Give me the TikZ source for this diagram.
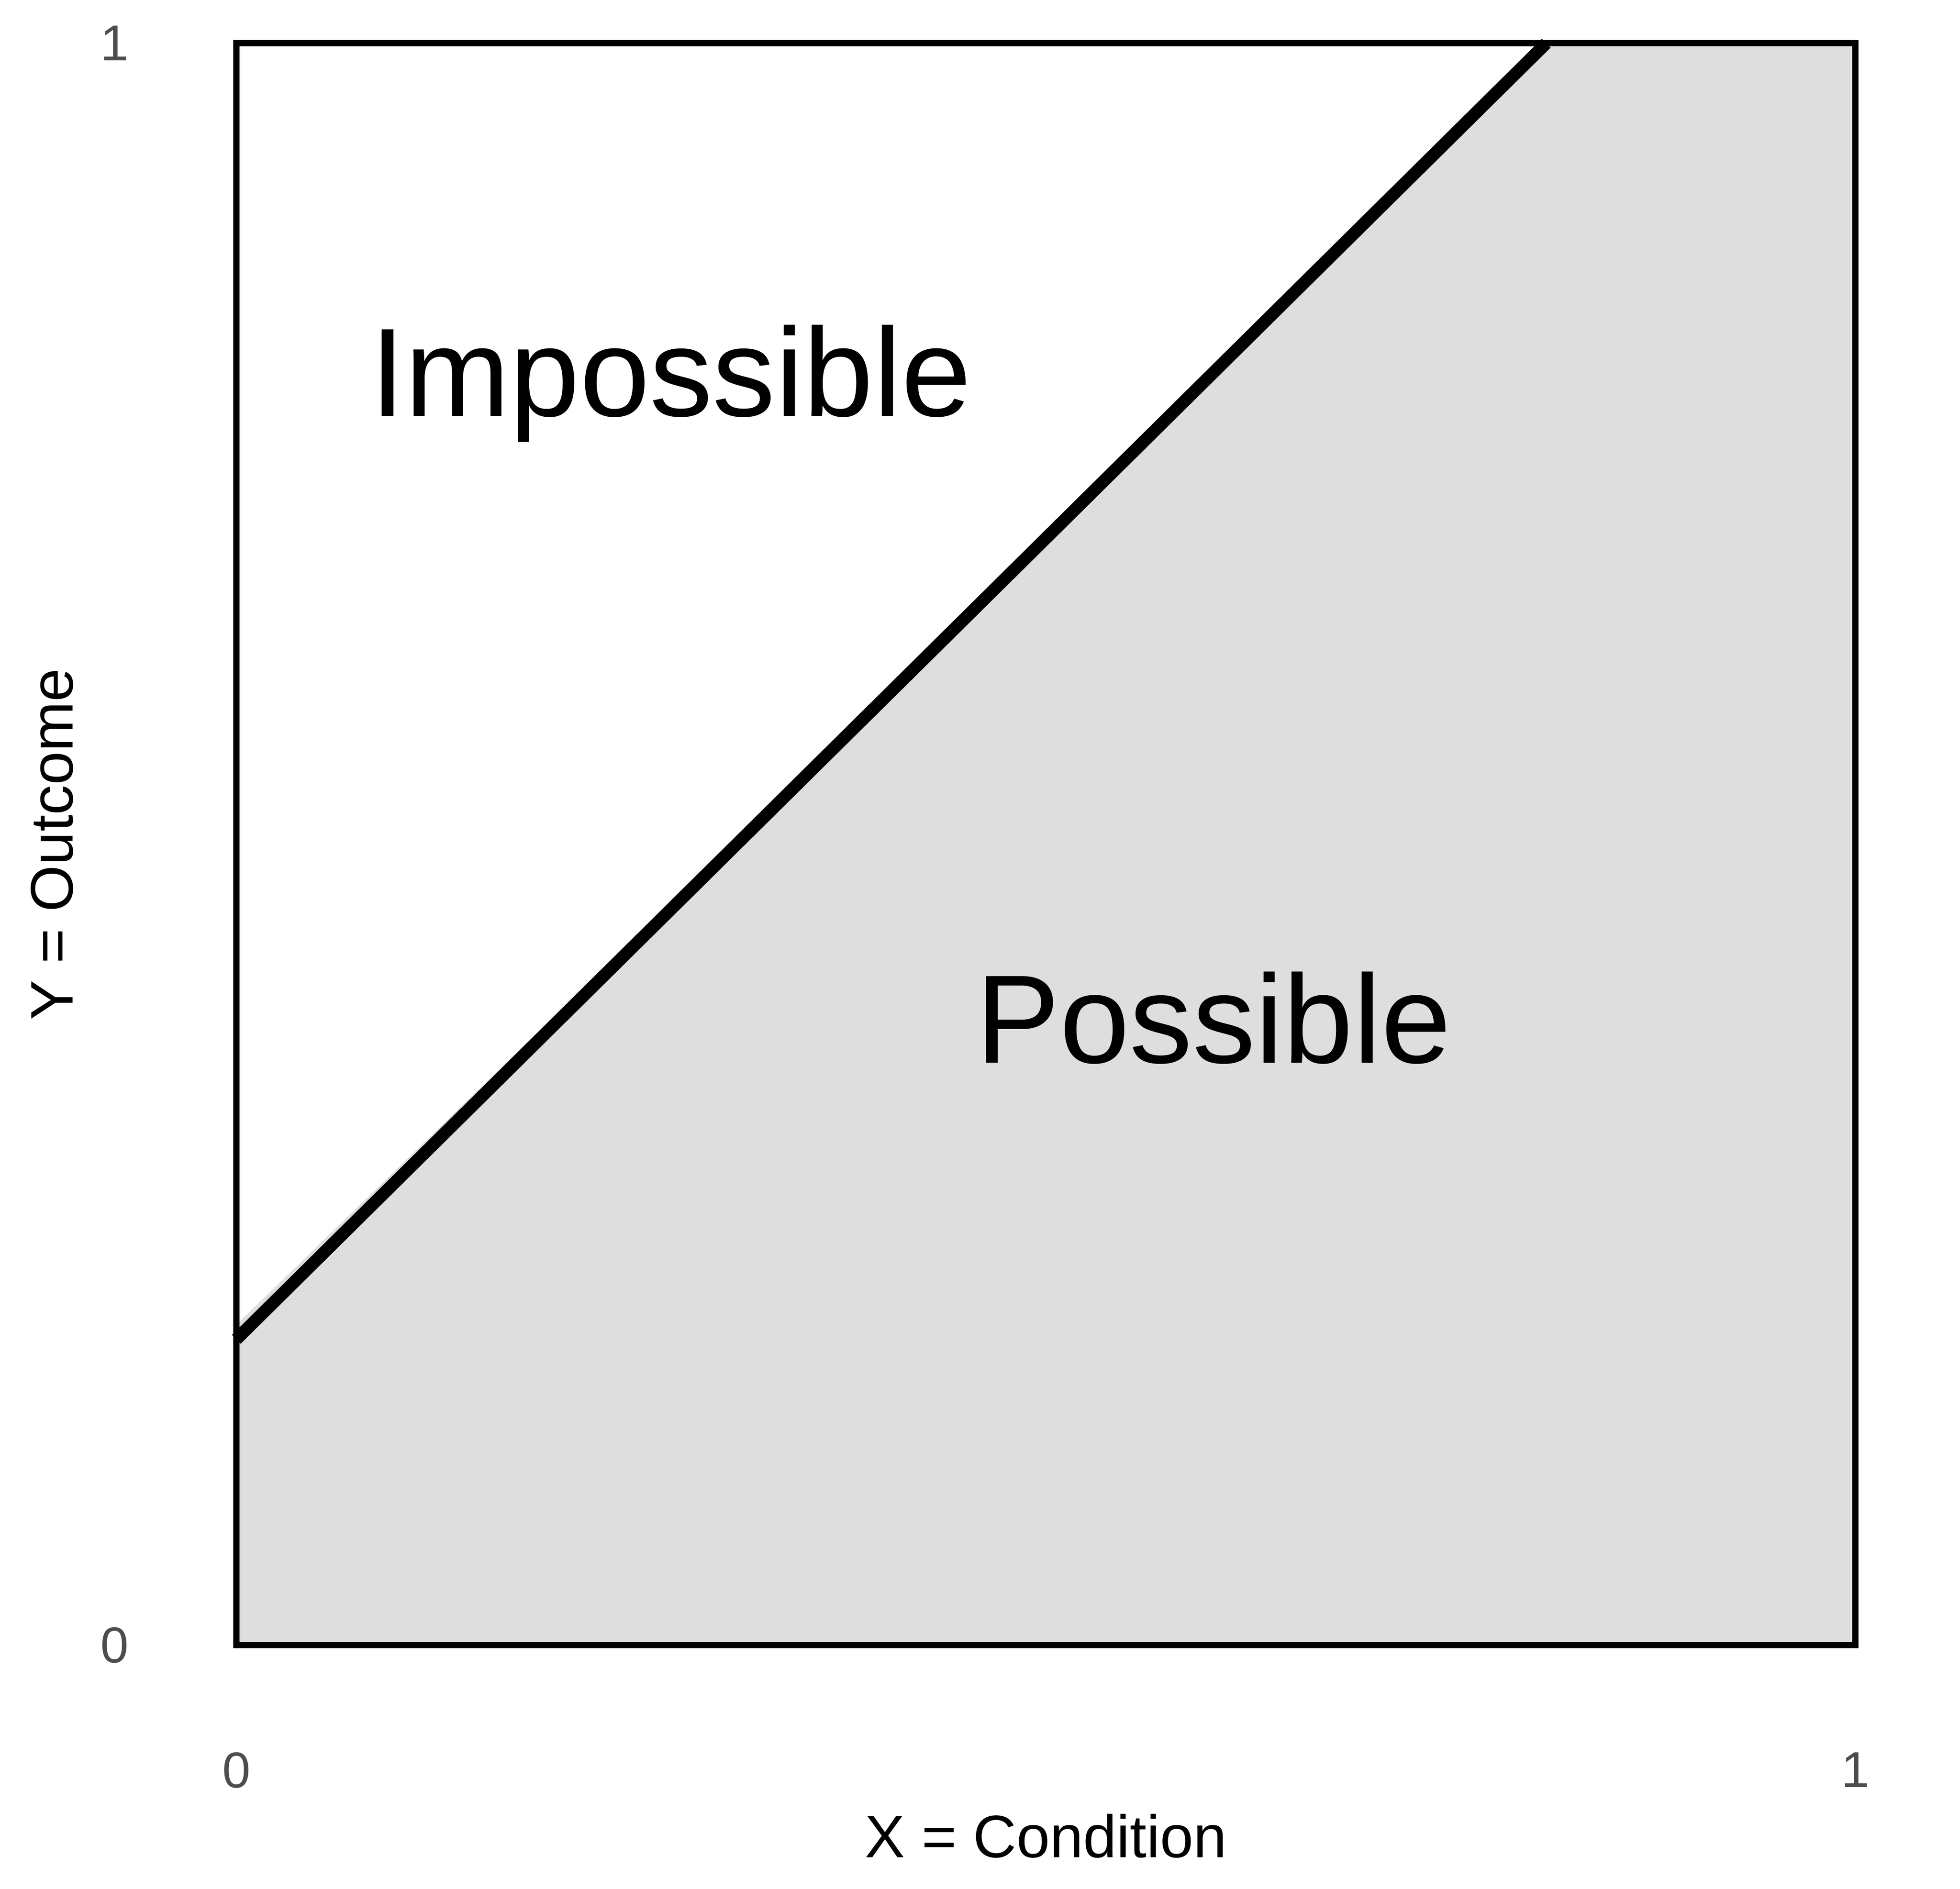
\documentclass[tikz,border=0pt]{standalone}
\usepackage{fontspec}
\setmainfont{Liberation Sans}
\usepackage{tikz}
\definecolor{possiblegray}{HTML}{DEDEDE}
\definecolor{tickgray}{HTML}{4D4D4D}

\begin{document}
\begin{tikzpicture}[inner sep=0pt,outer sep=0pt]
  \tikzstyle{frame}=[draw=black,line width=1.35pt]
  \tikzstyle{ceiling}=[draw=black,line width=2.7pt,line cap=butt]
  \tikzstyle{region}=[fill=possiblegray]
  \tikzstyle{ticklabel}=[text=tickgray,font=\fontsize{10.96}{13}\selectfont]
  \tikzstyle{axistitle}=[text=black,font=\fontsize{13.02}{15}\selectfont]
  \tikzstyle{zone}=[text=black,font=\fontsize{27.3}{32}\selectfont]

  \useasboundingbox (0,0) rectangle (14.95,14.4075);

  \begin{scope}[shift={(1.8025,1.8575)},x=12.35cm,y=12.22cm]
    \coordinate (ll) at (0,0);
    \coordinate (ur) at (1,1);
    \coordinate (c0) at (0,0.191);
    \coordinate (c1) at (0.809,1);

    % possible region under the ceiling line
    \fill [region] (ll) -- (0,0.200) -- (0.49,0.681) -- (c1) -- (ur) -- (1,0) -- cycle;
    \draw [frame] (ll) rectangle (ur);
    \draw [ceiling] (c0) -- (c1);

    \node [zone] (impossible) [anchor=base] at (0.2683,0.7672) {Impossible};
    \node [zone] (possible) [anchor=base] at (0.6035,0.3635) {Possible};

    % tick labels
    \node [ticklabel] (y0) [anchor=east] at (-0.0666,0) {0};
    \node [ticklabel] (y1) [anchor=east] at (-0.0666,1) {1};
    \node [ticklabel] (x0) [anchor=north] at (0,-0.0669) {0};
    \node [ticklabel] (x1) [anchor=north] at (1,-0.0669) {1};

    % axis titles
    \node [axistitle] (xtitle) [anchor=base] at (0.5,-0.1324) {X = Condition};
    \node [axistitle] (ytitle) [anchor=base,rotate=90] at (-0.1010,0.5) {Y = Outcome};
  \end{scope}
\end{tikzpicture}
\end{document}
